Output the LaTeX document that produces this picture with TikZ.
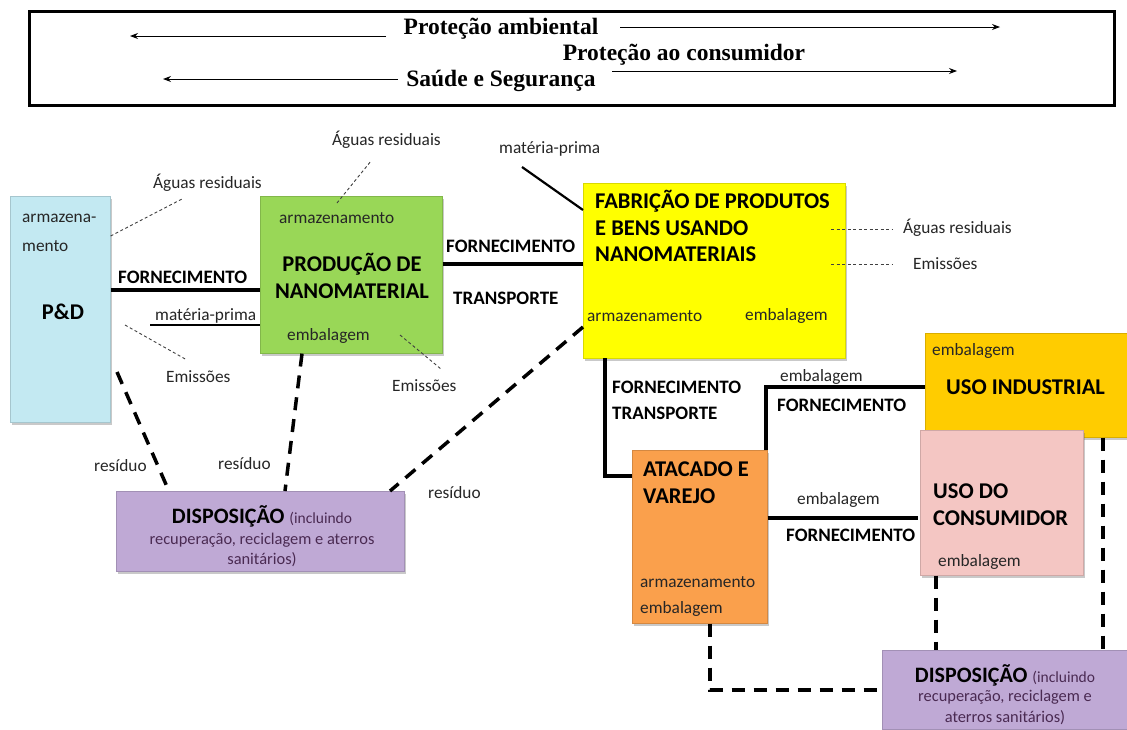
\documentclass[tikz,border=0pt]{standalone}
\usepackage{fontspec}
\setmainfont{Carlito}
\newfontfamily\topfont{Liberation Serif}
\usetikzlibrary{shadows,arrows.meta}
\definecolor{cpd}{HTML}{C3E9F2}
\definecolor{cgreen}{HTML}{99D757}
\definecolor{cyel}{HTML}{FFFF00}
\definecolor{cind}{HTML}{FFCC00}
\definecolor{ccons}{HTML}{F4C6C3}
\definecolor{catac}{HTML}{FAA04C}
\definecolor{cdisp}{HTML}{BFA9D5}
\definecolor{cdtxt}{HTML}{4A2A52}
\tikzset{
  box/.style={rectangle, inner sep=0, anchor=north west, draw=#1!85!black, line width=0.6pt, fill=#1,
     drop shadow={shadow xshift=2pt, shadow yshift=-3pt, opacity=0.35, fill=black!60}},
  lbl/.style={inner sep=0, anchor=west, font=\fontsize{17.3}{20}\selectfont, text=black!85},
  blbl/.style={inner sep=0, anchor=west, font=\fontsize{19}{22}\selectfont\bfseries},
  ttl/.style={inner sep=0, anchor=west, font=\fontsize{22.5}{26}\selectfont\bfseries},
  toptxt/.style={inner sep=0, font=\topfont\fontsize{23.5}{26}\selectfont\bfseries},
  dtxt/.style={inner sep=0, text=cdtxt, font=\fontsize{16.4}{19}\selectfont},
  supply/.style={line width=4pt},
  waste/.style={line width=3.5pt, dash pattern=on 13pt off 9pt},
  emis/.style={line width=0.9pt, black!75, dash pattern=on 3pt off 2.5pt},
  thinarrow/.style={line width=1pt, -{Stealth[length=8pt,width=6pt]}},
}
\begin{document}
\begin{tikzpicture}[x=1pt,y=-1pt]
\useasboundingbox (0,0) rectangle (1127,729);
\fill[white] (0,0) rectangle (1127,729);
% top frame
\node[draw, line width=3pt, rectangle, inner sep=0, minimum width=1085, minimum height=94, anchor=north west] (frame) at (28,10) {};
\node[toptxt] (pa) at (501,29) {Proteção ambiental};
\node[toptxt] (pc) at (684,55) {Proteção ao consumidor};
\node[toptxt] (ss) at (501,81) {Saúde e Segurança};
\coordinate (pa1) at (386,36); \coordinate (pa2) at (130,36);
\coordinate (pa3) at (620,27); \coordinate (pa4) at (1000,27);
\coordinate (pc1) at (612,71); \coordinate (pc2) at (957,71);
\coordinate (ss1) at (398,79); \coordinate (ss2) at (163,79);
\draw[thinarrow] (pa1) -- (pa2);
\draw[thinarrow] (pa3) -- (pa4);
\draw[thinarrow] (pc1) -- (pc2);
\draw[thinarrow] (ss1) -- (ss2);

% boxes
\node[box=cpd, minimum width=100, minimum height=226] (pd) at (10,196) {};
\node[box=cgreen, minimum width=182, minimum height=157] (prod) at (260,196) {};
\node[box=cyel, minimum width=262, minimum height=175] (fab) at (583,183) {};
\node[box=cind, minimum width=202, minimum height=104] (ind) at (925,333) {};
\node[box=ccons, minimum width=163, minimum height=145] (cons) at (920,430) {};
\node[box=catac, minimum width=135, minimum height=173] (atac) at (632,450) {};
\node[box=cdisp, minimum width=288, minimum height=80] (disp1) at (116,491) {};
\node[box=cdisp, minimum width=245, minimum height=79] (disp2) at (882,650) {};

% box texts
\node[lbl] (pdt1) at (22,218) {armazena-};
\node[lbl] (pdt2) at (22,246) {mento};
\node[ttl, anchor=center] (pdt3) at (63,312) {P\&D};

\node[lbl] (prt1) at (279,218) {armazenamento};
\node[ttl, anchor=center] (prt2) at (352,264) {PRODUÇÃO DE};
\node[ttl, anchor=center] (prt2b) at (352,291) {NANOMATERIAL};
\node[lbl] (prt3) at (287,336) {embalagem};

\node[ttl] (fbt1) at (595,201) {FABRIÇÃO DE PRODUTOS};
\node[ttl] (fbt1b) at (595,228) {E BENS USANDO};
\node[ttl] (fbt1c) at (595,254) {NANOMATERIAIS};
\node[lbl] (fbt2) at (587,316) {armazenamento};
\node[lbl] (fbt3) at (745,316) {embalagem};

\node[lbl] (indt1) at (932,351) {embalagem};
\node[ttl] (indt2) at (946,387) {USO INDUSTRIAL};

\node[ttl] (cst1) at (933,491) {USO DO};
\node[ttl] (cst1b) at (933,518) {CONSUMIDOR};
\node[lbl] (cst2) at (938,562) {embalagem};

\node[ttl] (att1) at (643,469) {ATACADO E};
\node[ttl] (att1b) at (643,496) {VAREJO};
\node[lbl] (att2) at (640,582) {armazenamento};
\node[lbl] (att3) at (640,609) {embalagem};

\node[inner sep=0] (d1t1) at (262,516) {\fontsize{22}{24}\selectfont\bfseries DISPOSIÇÃO \fontsize{15.5}{18}\selectfont\mdseries\color{cdtxt}(incluindo};
\node[dtxt] (d1t2) at (262,540) {recuperação, reciclagem e aterros};
\node[dtxt] (d1t3) at (262,560) {sanitários)};

\node[inner sep=0] (d2t1) at (1005,675) {\fontsize{22}{24}\selectfont\bfseries DISPOSIÇÃO \fontsize{15.5}{18}\selectfont\mdseries\color{cdtxt}(incluindo};
\node[dtxt] (d2t2) at (1005,697) {recuperação, reciclagem e};
\node[dtxt] (d2t3) at (1005,718) {aterros sanitários)};

% supply connectors
\draw[supply] (pd.east |- 0,290) -- (prod.west |- 0,290);
\node[blbl] (f1) at (118,277) {FORNECIMENTO};
\draw[supply] (prod.east |- 0,264) -- (fab.west |- 0,264);
\node[blbl] (f2) at (446,246) {FORNECIMENTO};
\node[blbl] (t2) at (453,298) {TRANSPORTE};
\draw[supply] (605,358) -- (605,476) -- (atac.west |- 0,476);
\node[blbl] (f3) at (612,387) {FORNECIMENTO};
\node[blbl] (t3) at (612,413) {TRANSPORTE};
\draw[supply] (atac.north -| 766,0) -- (766,387) -- (ind.west |- 0,387);
\node[lbl] (e4) at (780,377) {embalagem};
\node[blbl] (f4) at (777,405) {FORNECIMENTO};
\draw[supply] (atac.east |- 0,518) -- (918,518);
\node[lbl] (e5) at (797,500) {embalagem};
\node[blbl] (f5) at (786,535) {FORNECIMENTO};

% raw material
\node[lbl] (mp1) at (155,316) {matéria-prima};
\coordinate (mp1a) at (150,325);
\draw[line width=1.8pt] (mp1a) -- (prod.west |- 0,325);
\node[lbl] (mp2) at (499,149) {matéria-prima};
\coordinate (mp2a) at (522,167);
\draw[line width=2.2pt] (mp2a) -- (fab.west |- 0,210);

% emissions / waste water
\node[lbl] (ag1) at (153,183) {Águas residuais};
\coordinate (ag1a) at (182,199);
\draw[emis] (pd.east |- 0,236) -- (ag1a);
\node[lbl] (em1) at (166,377) {Emissões};
\coordinate (em1a) at (125,325); \coordinate (em1b) at (187,360);
\draw[emis] (em1a) -- (em1b);
\node[lbl] (ag2) at (332,140) {Águas residuais};
\coordinate (ag2a) at (371,161); \coordinate (ag2b) at (337,203);
\draw[emis] (ag2b) -- (ag2a);
\node[lbl] (em2) at (392,386) {Emissões};
\coordinate (em2a) at (400,335); \coordinate (em2b) at (441,369);
\draw[emis] (em2a) -- (em2b);
\node[lbl] (ag3) at (903,228) {Águas residuais};
\coordinate (ag3a) at (831,229);
\draw[emis] (ag3a) -- ++(62,0);
\node[lbl] (em3) at (913,264) {Emissões};
\coordinate (em3a) at (831,264);
\draw[emis] (em3a) -- ++(62,0);

% waste
\draw[waste] (117,372) -- (168,489);
\node[lbl] (r1) at (94,466) {resíduo};
\draw[waste] (prod.south -| 302,0) -- (285,491);
\node[lbl] (r2) at (218,464) {resíduo};
\draw[waste] (fab.west |- 0,327) -- (390,491);
\node[lbl] (r3) at (428,493) {resíduo};
\draw[waste] (atac.south -| 710,0) -- (710,690) -- (disp2.west |- 0,690);
\draw[waste] (cons.south -| 936,0) -- (disp2.north -| 936,0);
\draw[waste] (ind.south -| 1103,0) -- (disp2.north -| 1103,0);
\end{tikzpicture}
\end{document}
